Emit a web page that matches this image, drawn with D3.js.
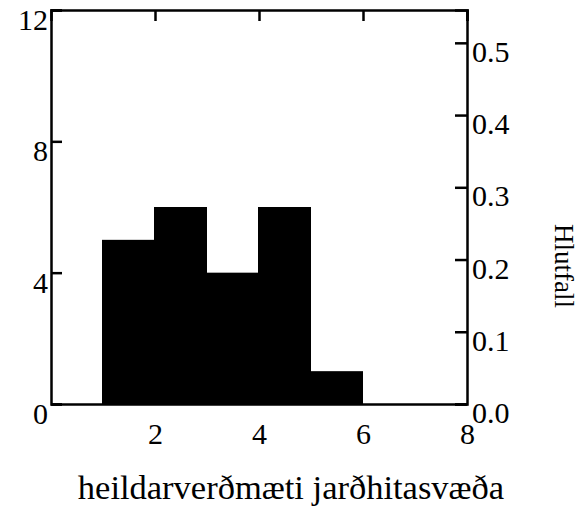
<!DOCTYPE html>
<html><head><meta charset="utf-8">
<script src="https://cdn.jsdelivr.net/npm/d3@7"></script>
<style>body{margin:0;background:#fff}svg text{font-family:"Liberation Serif","Times New Roman",serif;fill:#000}</style>
</head><body>
<svg id="c" width="583" height="510"></svg>
<script>
const binStarts = [1, 2, 3, 4, 5];
const binEnds = [2, 3, 4, 5, 6];
const counts = [5, 6, 4, 6, 1];
const xTicks = [2, 4, 6, 8];
const yTicks = [0, 4, 8, 12];
const pTicks = [0.0, 0.1, 0.2, 0.3, 0.4, 0.5];
const xTitle = "heildarverðmæti jarðhitasvæða";
const rTitle = "Hlutfall";

const total = d3.sum(counts);
const svg = d3.select("#c");
const L = 51, R = 467, T = 10, B = 404;
const x = d3.scaleLinear().domain([0, 8]).range([L, R]);
const y = d3.scaleLinear().domain([0, 12]).range([B, T]);
const yp = d3.scaleLinear().domain([0, 12 / total]).range([B, T]);
const fs = 30;

// bars
svg.append("g").selectAll("rect").data(counts).join("rect")
  .attr("x", (d, i) => x(binStarts[i]) - 1)
  .attr("width", (d, i) => x(binEnds[i]) - x(binStarts[i]) + 1)
  .attr("y", d => y(d))
  .attr("height", d => B - y(d))
  .attr("fill", "#000");

// left axis
const gl = svg.append("g").attr("transform", `translate(${L},0)`)
  .call(d3.axisRight(y).tickValues(yTicks).tickSize(11).tickFormat(d3.format("d")));
gl.selectAll("text").attr("x", -3).attr("text-anchor", "end").attr("dy", "0.72em")
  .attr("transform", "translate(0,-2)").style("font-size", fs + "px");

// right axis
const gr = svg.append("g").attr("transform", `translate(${R},0)`)
  .call(d3.axisLeft(yp).tickValues(pTicks).tickSize(12).tickFormat(d3.format(".1f")));
gr.selectAll("text").attr("x", 5).attr("text-anchor", "start").attr("dy", "0.72em")
  .attr("transform", "translate(0,-3)").style("font-size", fs + "px");

// top axis
svg.append("g").attr("transform", `translate(0,${T})`)
  .call(d3.axisBottom(x).tickValues(xTicks).tickSize(11).tickFormat(""));

// bottom axis
const gb = svg.append("g").attr("transform", `translate(0,${B})`)
  .call(d3.axisTop(x).tickValues(xTicks).tickSize(0).tickFormat(d3.format("d")));
gb.selectAll("text").attr("y", 18).attr("dy", "0.72em").style("font-size", fs + "px");

svg.selectAll(".domain").attr("stroke", "#000").attr("stroke-width", 2.5);
svg.selectAll(".tick line").attr("stroke", "#000").attr("stroke-width", 2.5);
svg.selectAll("g").attr("font-family", null).attr("font-size", null);

// titles
svg.append("text").attr("x", 291).attr("y", 499).attr("text-anchor", "middle")
  .style("font-size", "34.5px").text(xTitle);
svg.append("text").attr("transform", "translate(555,266) rotate(90)")
  .attr("text-anchor", "middle").style("font-size", "27px").text(rTitle);
</script>
</body></html>
